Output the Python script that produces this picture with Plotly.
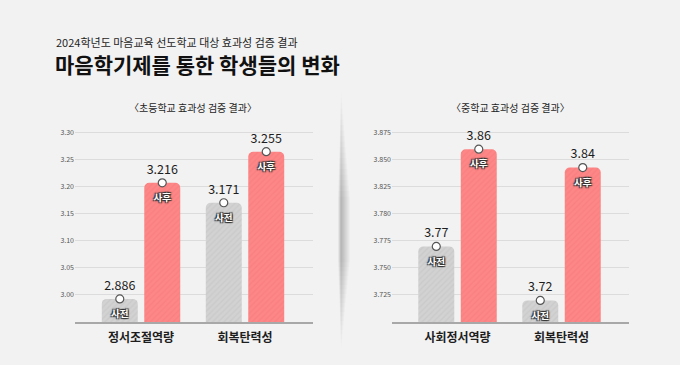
import plotly.graph_objects as go

# ---------------- data ----------------
elem_categories = ["정서조절역량", "회복탄력성"]
elem_pre_labels = ["2.886", "3.171"]
elem_post_labels = ["3.216", "3.255"]
# bar heights as drawn on the reference's axis
elem_pre_heights = [2.991, 3.170]
elem_post_heights = [3.207, 3.265]
elem_tickvals = [3.00, 3.05, 3.10, 3.15, 3.20, 3.25, 3.30]
elem_ticktext = ["3.00", "3.05", "3.10", "3.15", "3.20", "3.25", "3.30"]

mid_categories = ["사회정서역량", "회복탄력성"]
mid_pre_labels = ["3.77", "3.72"]
mid_post_labels = ["3.86", "3.84"]
mid_pre_heights = [3.770, 3.720]
mid_post_heights = [3.860, 3.843]
mid_tickvals = [3.725, 3.750, 3.775, 3.800, 3.825, 3.850, 3.875]
mid_ticktext = ["3.725", "3.750", "3.775", "3.780", "3.825", "3.850", "3.875"]

pre_name = "사전"
post_name = "사후"

# ---------------- style ----------------
W, H = 680, 365
FONT = "Noto Sans CJK KR"
PINK = "#fd8686"
PINK_STRIPE = "#f47a7a"
GRAY = "#d2d2d2"
GRAY_STRIPE = "#c2c2c2"
BG = "#f2f2f2"
inner_shadow = "1px 1px 1px #333, -1px -1px 1px #333, 1px -1px 1px #333, -1px 1px 1px #333"

def px_x(p):
    return p / W

def px_y(p):
    return 1 - p / H

fig = go.Figure()

panels = [
    ("x", "y", elem_categories, elem_pre_heights, elem_post_heights, elem_pre_labels, elem_post_labels),
    ("x2", "y2", mid_categories, mid_pre_heights, mid_post_heights, mid_pre_labels, mid_post_labels),
]

for xa, ya, cats, pre_h, post_h, pre_l, post_l in panels:
    for name, hts, col, stripe, grp in [
        (pre_name, pre_h, GRAY, GRAY_STRIPE, "pre"),
        (post_name, post_h, PINK, PINK_STRIPE, "post"),
    ]:
        fig.add_trace(go.Bar(
            x=cats, y=hts, name=name, xaxis=xa, yaxis=ya,
            offsetgroup=grp, alignmentgroup=xa,
            marker=dict(color=col, cornerradius=5, line=dict(width=0),
                        pattern=dict(shape="/", fgcolor=stripe, bgcolor=col, size=4, solidity=0.35)),
            showlegend=False, hoverinfo="skip",
        ))
    for grp, name, hts, labs in [("pre", pre_name, pre_h, pre_l), ("post", post_name, post_h, post_l)]:
        # inner label (사전 / 사후) just below the bar top
        fig.add_trace(go.Scatter(
            x=cats, y=hts, xaxis=xa, yaxis=ya, mode="markers+text",
            offsetgroup=grp, alignmentgroup=xa,
            text=[name] * len(cats), textposition="bottom center",
            textfont=dict(family=FONT, size=9.5, color="white", weight="bold", shadow=inner_shadow),
            marker=dict(size=16, opacity=0),
            showlegend=False, hoverinfo="skip", cliponaxis=False,
        ))
        # value label with circle marker at bar top
        fig.add_trace(go.Scatter(
            x=cats, y=hts, xaxis=xa, yaxis=ya, mode="markers+text",
            offsetgroup=grp, alignmentgroup=xa,
            text=labs, textposition="top center",
            textfont=dict(family=FONT, size=12.5, color="#1e1e1e"),
            marker=dict(symbol="circle", size=8, color="white", line=dict(color="#555", width=1.2)),
            showlegend=False, hoverinfo="skip", cliponaxis=False,
        ))

y_dom = [px_y(322), px_y(120)]
xcommon = dict(type="category", showgrid=False, showline=True, linecolor="#a8a8a8", linewidth=1.5,
               ticks="", ticklabelstandoff=4,
               tickfont=dict(family=FONT, size=12, color="#1e1e1e", weight="bold"),
               zeroline=False, fixedrange=True)
ycommon = dict(showgrid=True, gridcolor="#dcdcdc", gridwidth=1, zeroline=False, showline=False,
               ticks="", tickfont=dict(family=FONT, size=7, color="#555"), fixedrange=True)

fig.update_layout(
    width=W, height=H,
    margin=dict(l=0, r=0, t=0, b=0),
    paper_bgcolor=BG, plot_bgcolor="rgba(0,0,0,0)",
    barmode="group", bargap=0.183, bargroupgap=0.153,
    scattermode="group", scattergap=0.183,
    xaxis=dict(domain=[px_x(75), px_x(313)], anchor="y", range=[-0.635, 1.654], **xcommon),
    yaxis=dict(domain=y_dom, anchor="x", range=[2.948, 3.324],
               tickvals=elem_tickvals, ticktext=elem_ticktext, **ycommon),
    xaxis2=dict(domain=[px_x(392), px_x(629)], anchor="y2", range=[-0.630, 1.649], **xcommon),
    yaxis2=dict(domain=y_dom, anchor="x2", range=[3.700, 3.887],
                tickvals=mid_tickvals, ticktext=mid_ticktext, **ycommon),
    font=dict(family=FONT, color="#1e1e1e"),
)

# divider shadow (soft vertical band)
shapes = []
n = 20
for i in range(n):
    w = 0.6 + i * 0.45
    y0 = 92 + i * 5.5
    y1 = 348 - i * 4.5
    shapes.append(dict(type="rect", xref="paper", yref="paper",
                       x0=px_x(341 - w * 0.35), x1=px_x(341 + w),
                       y0=px_y(y1), y1=px_y(y0),
                       fillcolor="#000", opacity=0.012, line=dict(width=0), layer="below"))
fig.update_layout(shapes=shapes)

annotations = [
    dict(text="2024학년도 마음교육 선도학교 대상 효과성 검증 결과", x=px_x(54), y=px_y(41.5),
         xref="paper", yref="paper", xanchor="left", yanchor="middle", showarrow=False,
         font=dict(family=FONT, size=11, color="#1e1e1e")),
    dict(text="마음학기제를 통한 학생들의 변화", x=px_x(53), y=px_y(63.5),
         xref="paper", yref="paper", xanchor="left", yanchor="middle", showarrow=False,
         font=dict(family=FONT, size=21, color="#111", weight="bold")),
    dict(text="〈초등학교 효과성 검증 결과〉", x=px_x(193), y=px_y(107),
         xref="paper", yref="paper", xanchor="center", yanchor="middle", showarrow=False,
         font=dict(family=FONT, size=10, color="#1e1e1e")),
    dict(text="〈중학교 효과성 검증 결과〉", x=px_x(510), y=px_y(107),
         xref="paper", yref="paper", xanchor="center", yanchor="middle", showarrow=False,
         font=dict(family=FONT, size=10, color="#1e1e1e")),
]
fig.update_layout(annotations=annotations)

fig.write_html("out.html", config={"displayModeBar": False},
               post_script="document.body.style.margin='0';")
